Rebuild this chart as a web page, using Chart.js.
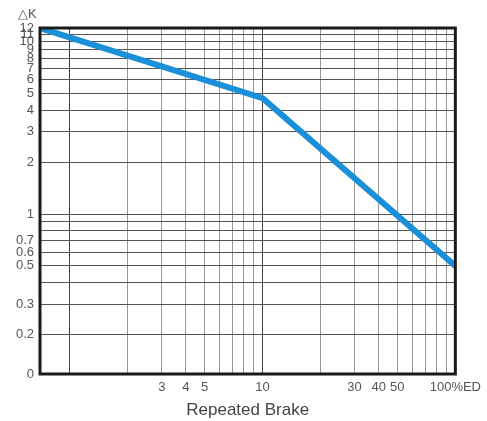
<!DOCTYPE html>
<html>
<head>
<meta charset="utf-8">
<script src="https://cdn.jsdelivr.net/npm/chart.js@4"></script>
<style>
  html, body { margin: 0; padding: 0; background: #fff; }
  #wrap { width: 487px; height: 421px; }
</style>
</head>
<body>
<div id="wrap"><canvas id="brakeChart"></canvas></div>
<script>
// curve (x = %ED, y = ΔK)
const dutyValues = [0.7, 10, 100];
const deltaK = [12, 4.7, 0.5];

// grid / tick positions
const xTicks = [1, 2, 3, 4, 5, 6, 7, 8, 9, 10, 20, 30, 40, 50, 60, 70, 80, 90, 100];
const xLabels = { 3: '3', 4: '4', 5: '5', 10: '10', 30: '30', 40: '40', 50: '50', 100: '100%ED' };
const yTicks = [0.118, 0.2, 0.3, 0.4, 0.5, 0.6, 0.7, 0.8, 0.9, 1, 2, 3, 4, 5, 6, 7, 8, 9, 10, 11, 12];
const yLabels = { 0.118: '0', 0.2: '0.2', 0.3: '0.3', 0.5: '0.5', 0.6: '0.6', 0.7: '0.7', 1: '1', 2: '2', 3: '3',
  4: '4', 5: '5', 6: '6', 7: '7', 8: '8', 9: '9', 10: '10', 11: '11', 12: '12' };

// frame round the plot + the ΔK caption
const framePlugin = {
    id: 'frame',
    afterDraw(chart) {
        const { ctx, chartArea: a } = chart;
        ctx.save();
        ctx.strokeStyle = '#1a1a1a';
        ctx.lineWidth = 3;
        ctx.strokeRect(a.left, a.top, a.right - a.left, a.bottom - a.top);
        ctx.fillStyle = '#555';
        ctx.font = '13px "Liberation Sans", Arial, sans-serif';
        ctx.textAlign = 'left';
        ctx.textBaseline = 'middle';
        ctx.fillText('△K', 18, 14);
        ctx.restore();
    }
};

new Chart(document.getElementById('brakeChart'), {
    type: 'line',
    data: {
        datasets: [{
            data: dutyValues.map((x, i) => ({ x: x, y: deltaK[i] })),
            borderColor: '#1b8fd8',
            borderWidth: 6,
            pointRadius: 0,
            fill: false,
            tension: 0
        }]
    },
    options: {
        responsive: true,
        maintainAspectRatio: false,
        animation: false,
        layout: { padding: { top: 28, right: 30, left: 0, bottom: 0 } },
        plugins: {
            legend: { display: false },
            tooltip: { enabled: false }
        },
        scales: {
            x: {
                type: 'logarithmic',
                min: 0.7,
                max: 100,
                afterBuildTicks: s => { s.ticks = xTicks.map(v => ({ value: v })); },
                afterFit: s => { s.height = 47; },
                grid: {
                    drawTicks: false,
                    color: c => (c.tick && [1, 10].includes(c.tick.value)) ? '#444' : '#999',
                    lineWidth: 1
                },
                border: { display: false },
                ticks: {
                    autoSkip: false,
                    maxRotation: 0,
                    padding: 6,
                    color: '#555',
                    font: { family: '"Liberation Sans", Arial, sans-serif', size: 13 },
                    callback: v => xLabels[v] || ''
                },
                title: {
                    display: true,
                    text: 'Repeated Brake',
                    color: '#444',
                    padding: { top: 0, bottom: 0 },
                    font: { family: '"Liberation Sans", Arial, sans-serif', size: 17 }
                }
            },
            y: {
                type: 'logarithmic',
                min: 0.118,
                max: 12,
                afterBuildTicks: s => { s.ticks = yTicks.map(v => ({ value: v })); },
                afterFit: s => { s.width = 40; },
                grid: {
                    drawTicks: false,
                    color: '#555',
                    lineWidth: 1
                },
                border: { display: false },
                ticks: {
                    autoSkip: false,
                    padding: 6,
                    color: '#555',
                    font: { family: '"Liberation Sans", Arial, sans-serif', size: 13 },
                    callback: v => yLabels[v] || ''
                }
            }
        }
    },
    plugins: [framePlugin]
});
</script>
</body>
</html>
